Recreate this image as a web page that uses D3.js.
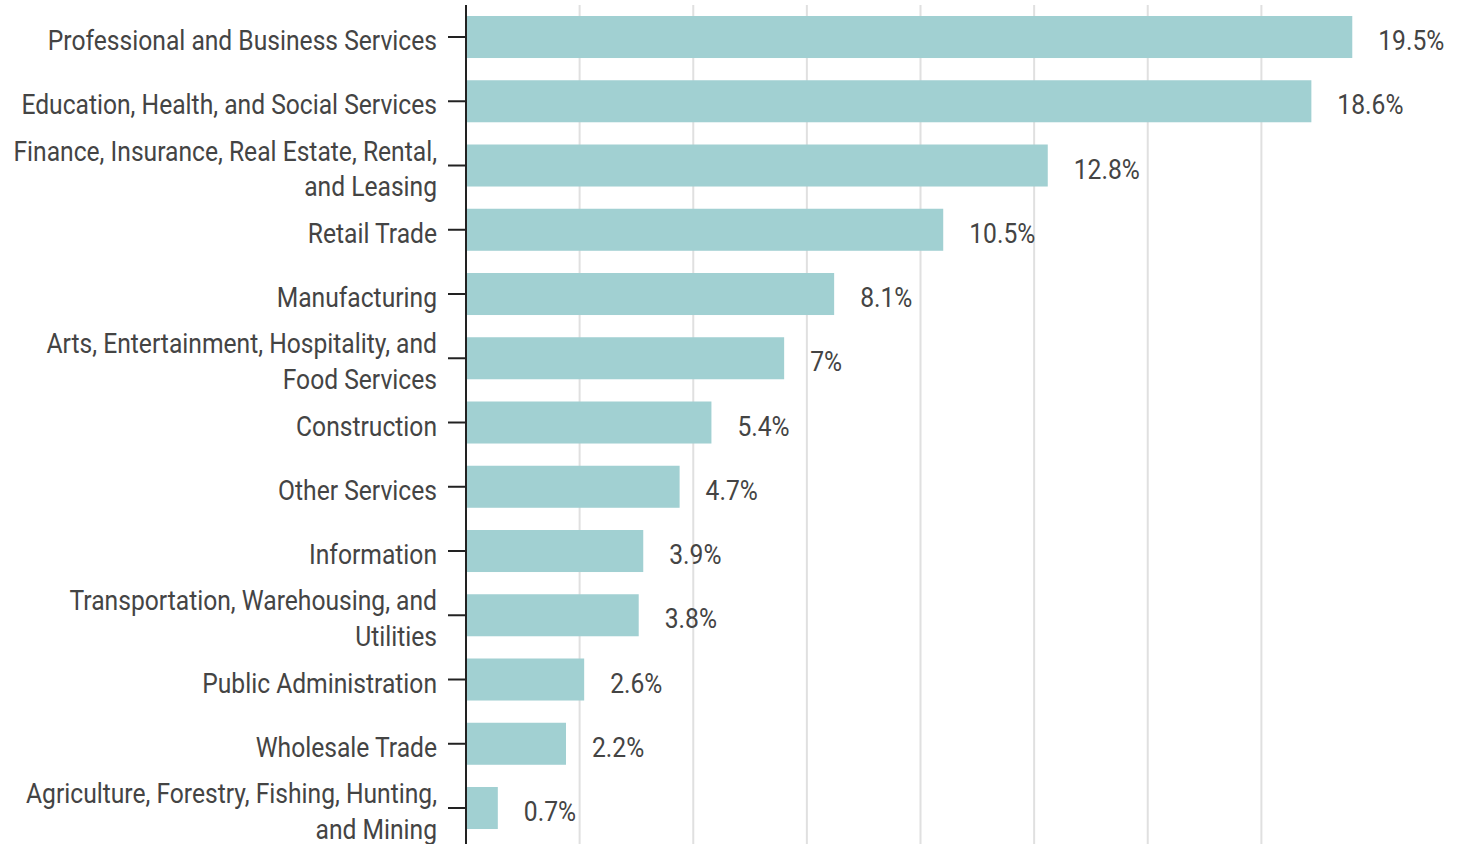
<!DOCTYPE html>
<html>
<head>
<meta charset="utf-8">
<script src="https://cdn.jsdelivr.net/npm/d3@7"></script>
<style>
  body { margin: 0; background: #fff; }
  svg { display: block; }
</style>
</head>
<body>
<div id="chart"></div>
<script>
// Industry share of employment (%)
const categories = [
  "Professional and Business Services",
  "Education, Health, and Social Services",
  "Finance, Insurance, Real Estate, Rental, and Leasing",
  "Retail Trade",
  "Manufacturing",
  "Arts, Entertainment, Hospitality, and Food Services",
  "Construction",
  "Other Services",
  "Information",
  "Transportation, Warehousing, and Utilities",
  "Public Administration",
  "Wholesale Trade",
  "Agriculture, Forestry, Fishing, Hunting, and Mining"
];
const values = [19.5, 18.6, 12.8, 10.5, 8.1, 7, 5.4, 4.7, 3.9, 3.8, 2.6, 2.2, 0.7];
const gridTicks = [2.5, 5, 7.5, 10, 12.5, 15, 17.5];

document.addEventListener("DOMContentLoaded", () => {
  const width = 1461;
  const height = 844;
  const margin = { top: 5, right: 86, left: 466 };
  const step = 64.25; // row spacing
  const pad = 0.346;
  const squeeze = 0.88; // fake a condensed face
  const fontSize = "28px";

  const data = categories.map((c, i) => ({ name: c, value: values[i] }));

  const svg = d3.select("#chart")
    .append("svg")
    .attr("width", width)
    .attr("height", height)
    .style("font-family", "Roboto, sans-serif");

  const x = d3.scaleLinear()
    .domain([0, 20])
    .range([margin.left, width - margin.right]);

  // first bar top sits at 16px
  const y0 = 16 - pad * step;
  const y = d3.scaleBand()
    .domain(categories)
    .range([y0, y0 + step * (categories.length - pad + 2 * pad)])
    .paddingInner(pad)
    .paddingOuter(pad);

  // vertical gridlines
  svg.append("g")
    .selectAll("line")
    .data(gridTicks)
    .enter()
    .append("line")
    .attr("x1", d => x(d))
    .attr("x2", d => x(d))
    .attr("y1", margin.top)
    .attr("y2", height)
    .attr("stroke", "#e0e0e0")
    .attr("stroke-width", 2);

  // bars
  svg.append("g")
    .selectAll("rect")
    .data(data)
    .enter()
    .append("rect")
    .attr("x", x(0))
    .attr("y", d => y(d.name))
    .attr("width", d => x(d.value) - x(0))
    .attr("height", y.bandwidth())
    .attr("fill", "#a1d0d2");

  // value labels
  svg.append("g")
    .selectAll("text")
    .data(data)
    .enter()
    .append("text")
    .attr("transform", d => `translate(${x(d.value) + 26},${y(d.name) + y.bandwidth() / 2 + 13}) scale(${squeeze},1)`)
    .attr("fill", "#444")
    .style("font-family", "Roboto, sans-serif")
    .style("font-size", fontSize)
    .text(d => d.value + "%");

  // y axis
  const yAxis = svg.append("g")
    .attr("transform", `translate(${margin.left},0)`)
    .call(d3.axisLeft(y).tickSize(18).tickPadding(11).tickSizeOuter(0));

  yAxis.attr("font-family", null);
  yAxis.select(".domain")
    .attr("stroke", "#222")
    .attr("stroke-width", 2)
    .attr("d", `M0,${margin.top}V${height}`);
  yAxis.selectAll(".tick line").attr("stroke", "#222").attr("stroke-width", 2);
  yAxis.selectAll(".tick text")
    .attr("fill", "#444")
    .attr("x", -29 / squeeze)
    .attr("transform", `scale(${squeeze},1)`)
    .style("font-family", "Roboto, sans-serif")
    .style("font-size", fontSize)
    .call(wrap, 432 / squeeze);

  function wrap(texts, maxWidth) {
    texts.each(function () {
      const text = d3.select(this);
      const words = text.text().split(/\s+/);
      const xPos = text.attr("x");
      text.text(null);
      let lines = [];
      let line = [];
      const probe = text.append("tspan").attr("x", xPos);
      words.forEach(w => {
        line.push(w);
        probe.text(line.join(" "));
        if (probe.node().getComputedTextLength() > maxWidth && line.length > 1) {
          line.pop();
          lines.push(line.join(" "));
          line = [w];
        }
      });
      lines.push(line.join(" "));
      probe.remove();
      const lh = 36;
      const offset = -(lines.length - 1) * lh / 2;
      lines.forEach((l, i) => {
        text.append("tspan")
          .attr("x", xPos)
          .attr("dy", i === 0 ? (offset + 13) + "px" : lh + "px")
          .text(l);
      });
      text.attr("dy", null);
    });
  }
});
</script>
</body>
</html>
